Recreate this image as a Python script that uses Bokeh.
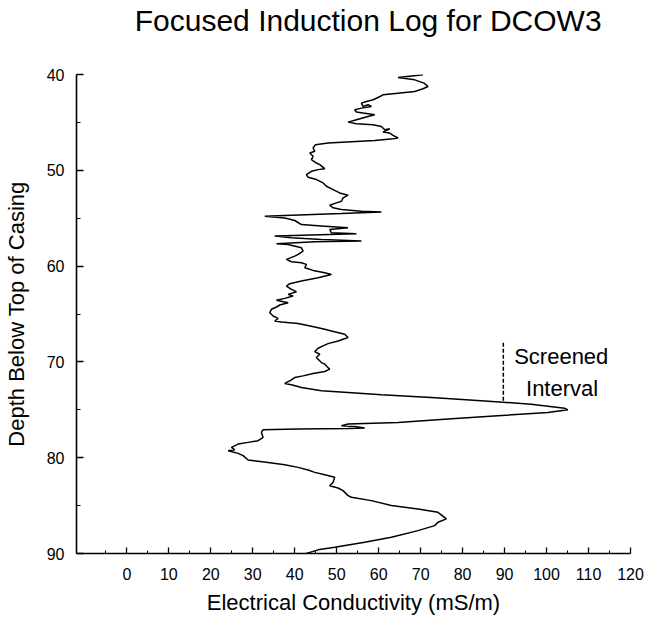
from bokeh.plotting import figure
from bokeh.models import Range1d, FixedTicker, ColumnDataSource, LinearAxis
from bokeh.embed import file_html
from bokeh.resources import INLINE
from bokeh.core.properties import value

# ---------------- data ----------------
depth = [
    40.03, 40.31, 40.56, 40.90, 41.25, 41.49, 41.77, 41.95, 42.12, 42.40,
    42.64, 42.81, 42.99, 43.33, 43.16, 43.33, 43.51, 43.68, 43.92, 44.03,
    44.20, 44.38, 44.72, 44.97, 45.14, 45.24, 45.42, 45.76, 45.66, 46.01,
    46.11, 46.35, 46.63, 46.70, 46.88, 47.01, 47.15, 47.33, 47.67, 48.02,
    48.19, 48.54, 48.89, 49.24, 49.41, 49.83, 49.93, 50.10, 50.45, 50.73,
    50.97, 51.32, 51.67, 52.01, 52.36, 52.60, 52.88, 53.23, 53.40, 53.65,
    53.92, 54.10, 54.27, 54.34, 54.51, 54.69, 54.79, 54.97, 55.24,
    55.66, 55.83, 56.00, 56.18, 56.53, 56.63, 56.87, 57.05, 57.22, 57.39,
    57.46, 57.67, 57.74, 58.09, 58.44, 58.78, 58.96, 59.30, 59.55, 59.65,
    59.82, 60.17, 60.45, 60.69, 60.87, 61.21, 61.56, 61.84, 62.08, 62.43,
    62.67, 62.95, 63.12, 63.37, 63.57, 63.82, 64.06, 64.27, 64.51, 64.86,
    65.21, 65.45, 65.73, 65.83, 66.00, 66.35, 66.60, 66.77, 67.12, 67.46,
    67.81, 68.09, 68.33, 68.57, 68.92, 69.20, 69.55, 70.07, 70.24, 70.76,
    71.00, 71.21, 71.46, 71.63, 71.98, 72.25, 72.39,
    72.67, 73.02, 73.19, 73.44, 73.71, 74.06, 74.41, 74.83, 75.00, 75.28,
    75.62, 75.97, 76.32, 76.49, 76.67, 76.74, 76.91, 76.94, 77.01, 77.08,
    77.36, 77.88, 78.23, 78.40, 78.58, 78.92, 79.17, 79.27, 79.55, 79.79,
    80.24, 80.49, 80.73, 81.01, 81.28, 81.53, 81.77, 82.05,
    82.57, 82.92, 83.16, 83.44, 83.96, 84.13, 84.48, 85.00, 85.35, 85.70,
    86.39, 86.74, 87.09, 87.61, 88.30, 88.82, 89.34, 89.62, 90.04,
]
conductivity = [
    70.56, 64.61, 68.58, 70.80, 71.75, 70.56, 68.58, 64.61, 61.04, 59.85,
    58.66, 57.07, 55.88, 56.28, 57.47, 58.26, 55.88, 54.29, 54.69, 56.28,
    59.06, 57.47, 54.69, 52.71, 54.69, 58.66, 60.64, 61.44, 62.63, 61.04,
    62.63, 63.42, 64.61, 63.42, 59.06, 53.50, 47.94, 44.93, 44.37, 44.77,
    43.58, 44.37, 43.98, 45.17, 45.96, 47.15, 45.56, 43.98, 42.79, 43.18,
    45.17, 46.75, 47.55, 49.14, 50.72, 52.71, 51.52, 51.12, 49.93, 48.34,
    49.14, 51.12, 55.88, 60.64, 51.12, 39.21, 32.87, 37.63, 40.01,
    41.59, 47.15, 52.70, 48.34, 48.73, 54.69, 35.24, 39.21, 46.35, 55.88,
    44.77, 35.64, 38.42, 41.59, 41.99, 40.80, 40.00, 38.02, 39.21, 41.59,
    42.78, 42.39, 44.37, 47.15, 48.73, 45.56, 41.59, 38.81, 38.02, 39.21,
    40.40, 38.42, 39.61, 37.62, 35.64, 38.42, 36.43, 35.64, 34.45, 34.05,
    34.85, 36.04, 35.24, 36.83, 40.80, 44.77, 47.15, 48.73, 51.91, 52.70,
    50.32, 47.94, 46.75, 45.56, 44.77, 45.96, 45.16, 46.35, 47.15, 48.34,
    47.15, 44.37, 41.99, 40.00, 38.81, 37.62, 39.21,
    41.59, 46.35, 52.70, 60.64, 72.54, 84.45, 96.35, 104.29, 105.08, 100.32,
    88.42, 76.51, 64.61, 52.70, 51.12, 54.29, 56.67, 52.70, 40.80, 32.46,
    32.07, 32.46, 31.27, 28.89, 26.51, 24.92, 25.72, 24.13, 26.51, 27.70,
    28.89, 33.65, 37.62, 40.80, 43.18, 44.77, 47.15, 49.53,
    49.13, 48.34, 50.32, 51.51, 52.71, 53.50, 58.26, 63.02, 69.37, 74.13,
    76.12, 74.13, 73.34, 69.37, 63.02, 56.67, 49.53, 45.56, 42.39,
]

x_ticks = [0, 10, 20, 30, 40, 50, 60, 70, 80, 90, 100, 110, 120]
x_minor_ticks = [-5, 5, 15, 25, 35, 45, 55, 65, 75, 85, 95, 105, 115]
y_ticks = [40, 50, 60, 70, 80, 90]
y_minor_ticks = [45, 55, 65, 75, 85]

screen_x = [89.7, 89.7]
screen_depth = [68.0, 74.05]
note_x = [103.5, 103.7]
note_depth = [69.45, 72.75]
note_text = ["Screened", "Interval"]

title_text = "Focused Induction Log for DCOW3"
title_center = 57.5          # x position (data units) the title is centred on
x_label = "Electrical Conductivity (mS/m)"
y_label = "Depth Below Top of Casing"

FONT = "Liberation Sans"

# ---------------- figure ----------------
p = figure(width=650, height=621, output_backend="svg", toolbar_location=None,
           x_range=Range1d(-12, 120), y_range=Range1d(90, 40),
           min_border_left=75, min_border_right=20,
           min_border_top=73, min_border_bottom=68)

p.background_fill_color = "white"
p.border_fill_color = "white"
p.outline_line_color = None
p.grid.visible = False

# axes
for ax in (p.xaxis[0], p.yaxis[0]):
    ax.axis_line_color = "black"
    ax.axis_line_width = 1.6
    ax.major_tick_line_color = "black"
    ax.minor_tick_line_color = "black"
    ax.major_tick_line_width = 1.3
    ax.minor_tick_line_width = 1.0
    ax.major_tick_out = 0
    ax.minor_tick_out = 0
    ax.major_label_text_font = FONT
    ax.major_label_text_font_size = "16px"
    ax.major_label_text_color = "black"
    ax.axis_label_text_font = FONT
    ax.axis_label_text_font_style = "normal"
    ax.axis_label_text_color = "black"
    ax.axis_label_text_font_size = "22px"

p.xaxis.ticker = FixedTicker(ticks=x_ticks, minor_ticks=x_minor_ticks)
p.xaxis.major_tick_in = 6
p.xaxis.minor_tick_in = 3
p.xaxis.major_label_standoff = 14
p.xaxis.axis_label = x_label
p.xaxis.axis_label_standoff = 7

p.yaxis.ticker = FixedTicker(ticks=y_ticks, minor_ticks=y_minor_ticks)
p.yaxis.major_tick_in = 7
p.yaxis.minor_tick_in = 4
p.yaxis.major_label_standoff = 12
p.yaxis.axis_label = y_label
p.yaxis.axis_label_standoff = 15

# chart title, drawn by a bare axis above the frame
title_axis = LinearAxis(
    ticker=FixedTicker(ticks=[title_center], minor_ticks=[]),
    major_label_overrides={title_center: title_text},
    axis_line_color=None, major_tick_line_color=None, minor_tick_line_color=None,
    major_tick_out=0, major_tick_in=0, minor_tick_out=0, minor_tick_in=0,
    major_label_standoff=38,
    major_label_text_font=FONT, major_label_text_font_size="30px",
    major_label_text_color="black",
)
p.add_layout(title_axis, "above")

# log curve
src = ColumnDataSource(data=dict(x=conductivity, y=depth))
p.line("x", "y", source=src, line_color="black", line_width=1.5)

# screened interval marker
p.line(screen_x, screen_depth, line_color="black", line_width=1.5, line_dash="4 2")
p.text(x=note_x, y=note_depth, text=note_text, text_align="center",
       text_baseline="alphabetic", text_font=value(FONT),
       text_font_size="22px", text_color="black")

open("out.html", "w").write(file_html(p, INLINE))
